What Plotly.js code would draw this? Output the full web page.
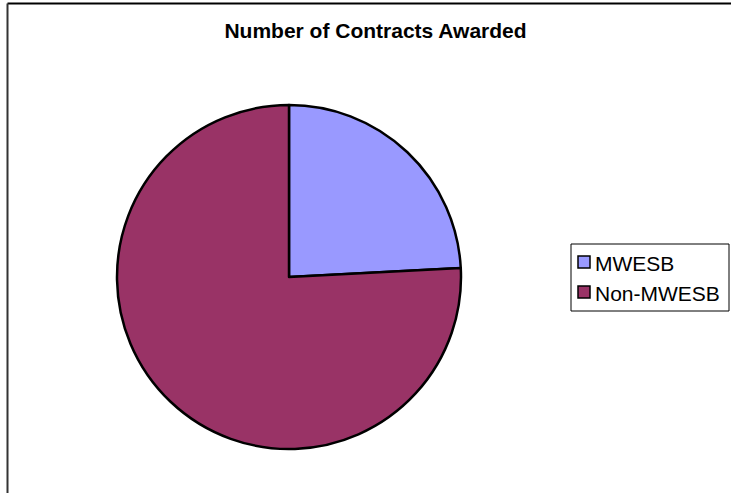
<!DOCTYPE html>
<html>
<head>
<meta charset="utf-8">
<script src="https://cdn.plot.ly/plotly-3.0.1.min.js"></script>
<style>html,body{margin:0;padding:0;background:#fff;}#chart{width:731px;height:493px;}</style>
</head>
<body>
<div id="chart"></div>
<script>
const chartTitle = "Number of Contracts Awarded";
const categories = ["MWESB", "Non-MWESB"];
const values = [29, 91];
const sliceColors = ["#9999FF", "#993366"];

const W = 731, H = 493;
const px = v => v / W;
const py = v => 1 - v / H;
const FONT = "Liberation Sans, Arial, sans-serif";

const data = [{
  type: "pie",
  labels: categories,
  values: values,
  sort: false,
  direction: "clockwise",
  rotation: 0,
  textinfo: "none",
  hoverinfo: "label+value+percent",
  showlegend: false,
  marker: {colors: sliceColors, line: {color: "#000000", width: 2.5}},
  domain: {x: [px(117), px(461)], y: [py(449), py(105)]}
}];

// Legend drawn as box + swatches + text, built from categories / sliceColors
const legBox = {x0: 571, x1: 729, y0: 244, y1: 311};
const rowY = [262, 292];
const shapes = [
  {type: "line", xref: "paper", yref: "paper", x0: px(7.5), x1: 1, y0: py(3.5), y1: py(3.5), line: {color: "#000000", width: 2}},
  {type: "line", xref: "paper", yref: "paper", x0: px(7.5), x1: px(7.5), y0: 0, y1: py(3.5), line: {color: "#333333", width: 2}},
  {type: "rect", xref: "paper", yref: "paper", x0: px(legBox.x0), x1: px(legBox.x1), y0: py(legBox.y1), y1: py(legBox.y0),
   line: {color: "#000000", width: 1}, fillcolor: "#ffffff", layer: "above"}
];
const annotations = [];
categories.forEach((c, i) => {
  shapes.push({type: "rect", xref: "paper", yref: "paper",
    x0: px(578), x1: px(590), y0: py(rowY[i] + 6), y1: py(rowY[i] - 6),
    fillcolor: sliceColors[i], line: {color: "#000000", width: 1.5}, layer: "above"});
  annotations.push({xref: "paper", yref: "paper", x: px(593), y: py(rowY[i] + 1),
    xanchor: "left", yanchor: "middle", showarrow: false, text: c,
    font: {size: 21, family: FONT, color: "#000000"}});
});

const layout = {
  width: W, height: H,
  margin: {l: 0, r: 0, t: 0, b: 0},
  paper_bgcolor: "#ffffff",
  font: {family: FONT, color: "#000000"},
  title: {
    text: "<b>" + chartTitle + "</b>",
    font: {size: 21, family: FONT, color: "#000000"},
    x: px(375.5), xanchor: "center",
    y: py(31), yanchor: "middle",
    xref: "paper", yref: "paper"
  },
  showlegend: false,
  shapes: shapes,
  annotations: annotations
};

Plotly.newPlot("chart", data, layout, {displayModeBar: false, staticPlot: true});
</script>
</body>
</html>
